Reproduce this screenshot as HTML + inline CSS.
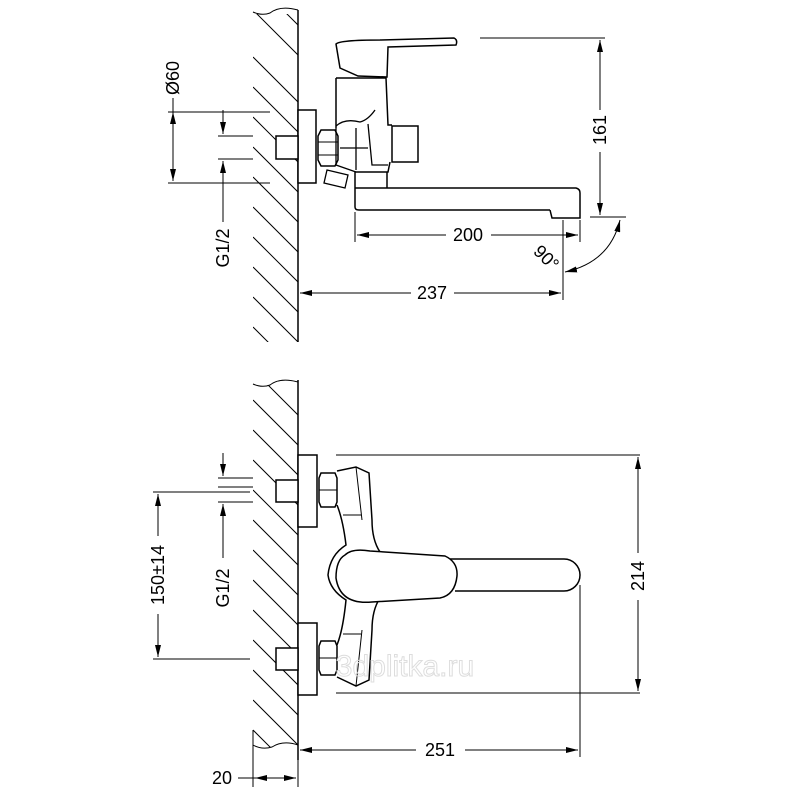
<!DOCTYPE html>
<html><head><meta charset="utf-8"><style>html,body{margin:0;padding:0;background:#fff}svg{display:block}</style></head>
<body>
<svg width="800" height="800" viewBox="0 0 800 800" xmlns="http://www.w3.org/2000/svg" font-family="Liberation Sans, Arial, sans-serif">
<defs>
<marker id="a" viewBox="0 0 12 6" refX="12" refY="3" markerWidth="12" markerHeight="6" markerUnits="userSpaceOnUse" orient="auto-start-reverse"><path d="M0,0 L12,3 L0,6 z" fill="#000"/></marker>
<clipPath id="w1"><rect x="253" y="14" width="45" height="328"/></clipPath>
<clipPath id="w2"><rect x="253" y="385" width="45" height="362"/></clipPath>
</defs>
<g stroke="#000" fill="none" stroke-width="1">
<line x1="298" y1="10" x2="298" y2="342" stroke-width="1.5"/>
<path d="M253,12 Q262,16 270,13 Q280,5 298,10"/>
<g clip-path="url(#w1)">
<path d="M253,10 l45,45 M253,57 l45,45 M253,87 l45,45 M253,117 l45,45 M253,147 l45,45 M253,177 l45,45 M253,207 l45,45 M253,237 l45,45 M253,267 l45,45 M253,297 l45,45 M253,327 l45,45 M253,-20 l45,45"/>
</g>
<rect x="298" y="110" width="18" height="73" fill="#fff" stroke-width="1.5"/>
<rect x="276" y="136" width="22" height="23" fill="#fff" stroke-width="1.5"/>
<path d="M321,130 h14 l3,6 v24 l-3,6 h-14 l-3,-6 v-24 z" stroke-width="1.5"/>
<path d="M318,142 h20 M318,155 h20"/>
<path d="M336,44 Q340,40 380,40 L454,38 Q458,40 456,45 L388,47 L387,77 L358,76 L340,68 Z" stroke-width="1.5"/>
<path d="M336,78 L386,78 L388,125 L392,125 M390,162 L388,172 L355,172 M336,78 L336,128" stroke-width="1.5"/>
<path d="M336,126 Q345,118 360,122 Q368,120 375,110 M336,128 L336,165 L356,172 M340,148 L368,148 M356,128 L356,170 M368,124 L372,165 L388,165" stroke-width="1.3"/>
<rect x="392" y="126" width="26" height="36" stroke-width="1.5"/>
<path d="M355,172 L355,207 Q355,210 359,210 L550,210 M355,188 L387,188 L387,172 M387,188 L576,188 Q580,189 580,193 L580,218 L552,218 L550,210" stroke-width="1.5"/>
<path d="M327,170 l21,5 l-3,13 l-21,-5 z" stroke-width="1.3"/>
<line x1="480" y1="38" x2="605" y2="38"/>
<line x1="590" y1="217" x2="626" y2="217"/>
<line x1="600" y1="40" x2="600" y2="110" marker-start="url(#a)"/>
<line x1="600" y1="152" x2="600" y2="215" marker-end="url(#a)"/>
<line x1="355" y1="212" x2="355" y2="242"/>
<line x1="580" y1="220" x2="580" y2="242"/>
<line x1="563" y1="220" x2="563" y2="300"/>
<line x1="357" y1="235" x2="446" y2="235" marker-start="url(#a)"/>
<line x1="491" y1="235" x2="578" y2="235" marker-end="url(#a)"/>
<line x1="300" y1="293" x2="411" y2="293" marker-start="url(#a)"/>
<line x1="454" y1="293" x2="561" y2="293" marker-end="url(#a)"/>
<path d="M565,272 Q610,262 620,220" marker-start="url(#a)" marker-end="url(#a)"/>
<line x1="168" y1="112" x2="270" y2="112"/>
<line x1="168" y1="183" x2="270" y2="183"/>
<line x1="173" y1="98" x2="173" y2="181" marker-end="url(#a)"/>
<line x1="173" y1="112" x2="173" y2="124" marker-start="url(#a)"/>
<line x1="218" y1="136" x2="253" y2="136"/>
<line x1="218" y1="159" x2="253" y2="159"/>
<line x1="223" y1="110" x2="223" y2="134" marker-end="url(#a)"/>
<line x1="223" y1="161" x2="223" y2="222" marker-start="url(#a)"/>

<line x1="298" y1="380" x2="298" y2="760" stroke-width="1.5"/>
<path d="M253,384 Q262,388 270,385 Q280,377 298,382"/>
<path d="M253,745 Q262,750 272,747 Q283,740 298,745"/>
<g clip-path="url(#w2)">
<path d="M253,370 l45,45 M253,400 l45,45 M253,430 l45,45 M253,460 l45,45 M253,490 l45,45 M253,520 l45,45 M253,550 l45,45 M253,580 l45,45 M253,610 l45,45 M253,640 l45,45 M253,670 l45,45 M253,700 l45,45 M253,730 l45,45"/>
</g>
<rect x="298" y="455" width="19" height="72" fill="#fff" stroke-width="1.5"/>
<rect x="276" y="480" width="22" height="22" fill="#fff" stroke-width="1.5"/>
<path d="M321,473 h14 l2,5 v24 l-2,5 h-14 l-2,-5 v-24 z" stroke-width="1.5"/>
<path d="M319,490 h18"/>
<rect x="298" y="623" width="19" height="72" fill="#fff" stroke-width="1.5"/>
<rect x="276" y="648" width="22" height="22" fill="#fff" stroke-width="1.5"/>
<path d="M321,641 h14 l2,5 v24 l-2,5 h-14 l-2,-5 v-24 z" stroke-width="1.5"/>
<path d="M319,658 h18"/>
<path d="M337,471 L356,467 L369,473 L372,520 Q372,540 380,552 M337,505 Q343,520 346,545 Q330,555 328,575 Q330,590 346,600 Q343,630 337,645 M380,598 Q372,610 372,630 L369,680 L356,686 L337,677" stroke-width="1.5"/>
<path d="M343,515 h18 M343,634 h18 M356,467 L362,520 M356,686 L362,630"/>
<path d="M450,559 L564,559 A16,16 0 0 1 564,591 L455,591" stroke-width="1.5"/>
<path d="M345,555 Q352,548 370,551 L445,556 Q458,562 457,576 Q455,595 440,598 L372,602 Q340,605 336,578 Q336,560 345,555 Z" fill="#fff" stroke-width="1.5"/>
<line x1="336" y1="455" x2="640" y2="455"/>
<line x1="336" y1="693" x2="640" y2="693"/>
<line x1="638" y1="457" x2="638" y2="553" marker-start="url(#a)"/>
<line x1="638" y1="600" x2="638" y2="691" marker-end="url(#a)"/>
<line x1="580" y1="585" x2="580" y2="757"/>
<line x1="300" y1="750" x2="416" y2="750" marker-start="url(#a)"/>
<line x1="465" y1="750" x2="578" y2="750" marker-end="url(#a)"/>
<line x1="253" y1="730" x2="253" y2="787"/>
<line x1="298" y1="760" x2="298" y2="787"/>
<line x1="238" y1="778" x2="296" y2="778" marker-end="url(#a)"/>
<line x1="255" y1="778" x2="268" y2="778" marker-start="url(#a)"/>
<line x1="153" y1="492" x2="250" y2="492"/>
<line x1="153" y1="659" x2="250" y2="659"/>
<line x1="158" y1="494" x2="158" y2="536" marker-start="url(#a)"/>
<line x1="158" y1="614" x2="158" y2="657" marker-end="url(#a)"/>
<line x1="218" y1="478" x2="253" y2="478"/>
<line x1="218" y1="487" x2="253" y2="487"/>
<line x1="218" y1="502" x2="253" y2="502"/>
<line x1="223" y1="453" x2="223" y2="476" marker-end="url(#a)"/>
<line x1="223" y1="504" x2="223" y2="558" marker-start="url(#a)"/>
</g>
<g font-size="18" fill="#000" text-anchor="middle">
<text x="468" y="241">200</text>
<text x="432" y="299">237</text>
<text x="440" y="756">251</text>
<text x="222" y="784">20</text>
<text transform="translate(606,130) rotate(-90)">161</text>
<text transform="translate(644,576) rotate(-90)">214</text>
<text transform="translate(179,78) rotate(-90)">Ø60</text>
<text transform="translate(229,248) rotate(-90)">G1/2</text>
<text transform="translate(229,588) rotate(-90)">G1/2</text>
<text transform="translate(164,575) rotate(-90)">150±14</text>
<text transform="translate(542,262) rotate(45)">90°</text>
</g>
<text x="405" y="676" font-size="30" fill="none" stroke="#ddd" stroke-width="1" text-anchor="middle">3dplitka.ru</text>
</svg>
</body></html>
